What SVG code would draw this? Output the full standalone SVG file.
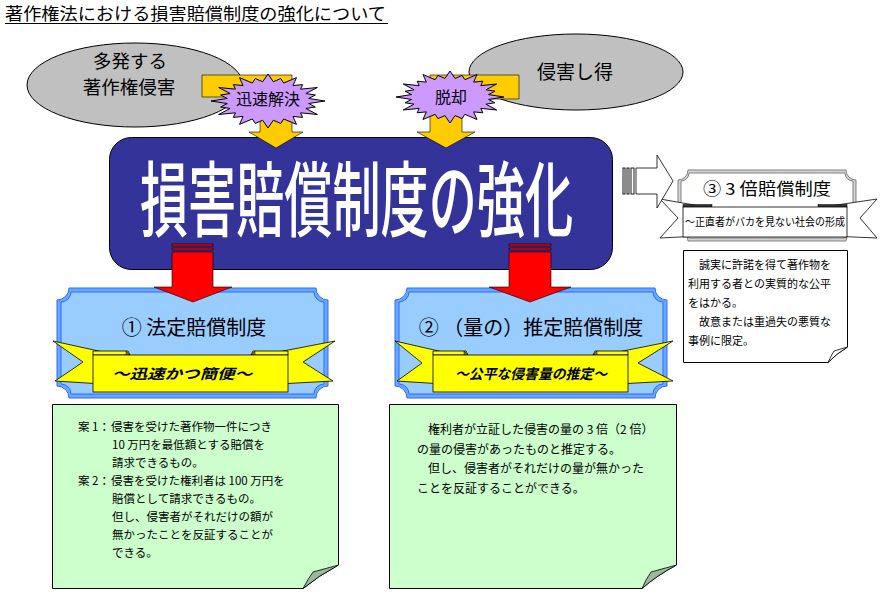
<svg xmlns="http://www.w3.org/2000/svg" xmlns:xlink="http://www.w3.org/1999/xlink" width="880" height="594" viewBox="0 0 880 594">
<style>
text{font-family:"Noto Sans CJK JP","Noto Sans",sans-serif;fill:#000}
.ell{fill:#c0c0c0;stroke:#000;stroke-width:1}
.yel{fill:#ffcc00;stroke:#000;stroke-width:0.6}
.red{fill:#ff0000;stroke:#000;stroke-width:0.6}
.star{fill:#cc99ff;stroke:#000;stroke-width:1}
.pl-out{fill:#66aaff;stroke:#3366ff;stroke-width:1}
.pl-in{fill:#99ccff;stroke:#3366ff;stroke-width:1}
.rib{fill:#ffff00;stroke:#000;stroke-width:0.8}
.ribd{fill:#808000;stroke:#000;stroke-width:0.5}
.note{fill:#ccffcc;stroke:#000;stroke-width:1}
.fold{fill:#99bb99;stroke:#000;stroke-width:0.8}
.nt{font-size:11.5px}
.rt{font-size:14px;font-weight:bold;font-style:italic}
.stripe{fill:#fff;stroke:#000;stroke-width:0.9}
</style>
<defs>
<polygon id="starshape" vector-effect="non-scaling-stroke" points="1,0 0.714,0.094 0.831,0.223 0.665,0.276 0.866,0.5 0.571,0.438 0.608,0.608 0.438,0.571 0.5,0.866 0.276,0.665 0.223,0.831 0.094,0.714 0,1 -0.094,0.714 -0.223,0.831 -0.276,0.665 -0.5,0.866 -0.438,0.571 -0.608,0.608 -0.571,0.438 -0.866,0.5 -0.665,0.276 -0.831,0.223 -0.714,0.094 -1,0 -0.714,-0.094 -0.831,-0.223 -0.665,-0.276 -0.866,-0.5 -0.571,-0.438 -0.608,-0.608 -0.438,-0.571 -0.5,-0.866 -0.276,-0.665 -0.223,-0.831 -0.094,-0.714 0,-1 0.094,-0.714 0.223,-0.831 0.276,-0.665 0.5,-0.866 0.438,-0.571 0.608,-0.608 0.571,-0.438 0.866,-0.5 0.665,-0.276 0.831,-0.223 0.714,-0.094"/>
</defs>
<rect width="880" height="594" fill="#fff"/>

<g id="title">
<text x="5" y="20" font-size="17" textLength="381" lengthAdjust="spacingAndGlyphs">著作権法における損害賠償制度の強化について</text>
<line x1="5" y1="23.5" x2="388" y2="23.5" stroke="#000" stroke-width="1"/>
</g>

<g id="node-many">
<ellipse class="ell" cx="135" cy="85" rx="108" ry="42"/>
<text x="130" y="68" font-size="18.5" text-anchor="middle">多発する</text>
<text x="129" y="94" font-size="18.5" text-anchor="middle">著作権侵害</text>
</g>

<g id="node-can">
<ellipse class="ell" cx="576" cy="72" rx="107" ry="38"/>
<text x="575" y="79" font-size="19" text-anchor="middle">侵害し得</text>
</g>

<g id="node-main">
<rect x="109.5" y="137.5" width="503" height="132" rx="22" ry="22" fill="#333399" stroke="#000" stroke-width="1"/>
<text x="140" y="230" font-size="82" font-weight="500" textLength="433" lengthAdjust="spacingAndGlyphs" style="fill:#fff">損害賠償制度の強化</text>
</g>

<g id="node-statutory">
<path class="pl-out" d="M69,288 H316 A12,12 0 0 0 328,300 V386 A12,12 0 0 0 316,398 H69 A12,12 0 0 0 57,386 V300 A12,12 0 0 0 69,288 Z"/>
<path class="pl-in" d="M71,292 H314 A10,10 0 0 0 324,302 V384 A10,10 0 0 0 314,394 H71 A10,10 0 0 0 61,384 V302 A10,10 0 0 0 71,292 Z"/>
<text x="194" y="335" font-size="20" text-anchor="middle">①  法定賠償制度</text>
<polygon class="rib" points="53,341 103,352 103,384 55,381 83,362"/>
<polygon class="rib" points="335,341 278,352 278,384 333,381 303,362"/>
<path class="rib" d="M93,355 V351 H128 L130,355 Z"/>
<path class="rib" d="M288,355 V351 H253 L251,355 Z"/>
<path class="ribd" d="M126,351 L130,355 L126,355 Z"/>
<path class="ribd" d="M255,351 L251,355 L255,355 Z"/>
<rect class="rib" x="93" y="355" width="195" height="37"/>
<text class="rt" x="182" y="379" text-anchor="middle" textLength="140" lengthAdjust="spacingAndGlyphs">～迅速かつ簡便～</text>
</g>

<g id="node-presumed">
<path class="pl-out" d="M407,288 H655 A12,12 0 0 0 667,300 V386 A12,12 0 0 0 655,398 H407 A12,12 0 0 0 395,386 V300 A12,12 0 0 0 407,288 Z"/>
<path class="pl-in" d="M409,292 H653 A10,10 0 0 0 663,302 V384 A10,10 0 0 0 653,394 H409 A10,10 0 0 0 399,384 V302 A10,10 0 0 0 409,292 Z"/>
<text x="531" y="335" font-size="20" text-anchor="middle">②  （量の）推定賠償制度</text>
<polygon class="rib" points="395,341 443,352 443,384 397,381 422,363"/>
<polygon class="rib" points="673,341 618,352 618,384 673,381 638,363"/>
<path class="rib" d="M433,355 V351 H466 L468,355 Z"/>
<path class="rib" d="M628,355 V351 H595 L593,355 Z"/>
<path class="ribd" d="M464,351 L468,355 L464,355 Z"/>
<path class="ribd" d="M597,351 L593,355 L597,355 Z"/>
<rect class="rib" x="433" y="355" width="195" height="37"/>
<text class="rt" x="531" y="379" text-anchor="middle" textLength="152" lengthAdjust="spacingAndGlyphs">～公平な侵害量の推定～</text>
</g>

<g id="node-triple">
<path d="M688,170 H846 A10,10 0 0 0 856,180 V231 A10,10 0 0 0 846,241 H688 A10,10 0 0 0 678,231 V180 A10,10 0 0 0 688,170 Z" fill="#d4d4d4" stroke="#808080" stroke-width="1"/>
<path d="M689,173 H845 A8,8 0 0 0 853,181 V230 A8,8 0 0 0 845,238 H689 A8,8 0 0 0 681,230 V181 A8,8 0 0 0 689,173 Z" fill="#fff" stroke="#808080" stroke-width="1"/>
<text x="767" y="195" font-size="16.5" text-anchor="middle" textLength="128" lengthAdjust="spacingAndGlyphs">③  3 倍賠償制度</text>
<polygon points="660,199 700,206 700,236 660,238 678,218" fill="#fff" stroke="#000" stroke-width="0.8"/>
<polygon points="877,199 830,206 830,236 877,238 860,218" fill="#fff" stroke="#000" stroke-width="0.8"/>
<rect x="683" y="204.5" width="29" height="3" fill="#333" stroke="#000" stroke-width="0.5"/>
<rect x="818" y="204.5" width="29" height="3" fill="#333" stroke="#000" stroke-width="0.5"/>
<rect x="683" y="207" width="164" height="30" fill="#fff" stroke="#000" stroke-width="0.8"/>
<text x="685" y="226" font-size="11" textLength="160" lengthAdjust="spacingAndGlyphs">～正直者がバカを見ない社会の形成</text>
</g>

<g id="note-triple">
<path d="M683.5,250.5 H847.5 V347 Q836,354 828,362.5 H683.5 Z" fill="#fff" stroke="#000" stroke-width="1"/>
<path d="M828,362.5 Q831,356 834,351 L847.5,347 Q836,354 828,362.5 Z" fill="#fff" stroke="#000" stroke-width="0.8"/>
<text style="font-size:11px">
<tspan x="699" y="269">誠実に許諾を得て著作物を</tspan>
<tspan x="688" y="288">利用する者との実質的な公平</tspan>
<tspan x="688" y="307">をはかる。</tspan>
<tspan x="699" y="326">故意または重過失の悪質な</tspan>
<tspan x="688" y="345">事例に限定。</tspan>
</text>
</g>

<g id="note-statutory">
<path class="note" d="M52.5,404.5 H338.5 V565 Q318,576 303,588.5 H52.5 Z"/>
<path class="fold" d="M303,588.5 Q308,579 313,572 L338.5,565 Q318,576 303,588.5 Z"/>
<text class="nt">
<tspan x="78" y="431">案 1：</tspan><tspan x="111" y="431">侵害を受けた著作物一件につき</tspan>
<tspan x="112" y="449">10 万円を最低額とする賠償を</tspan>
<tspan x="112" y="467">請求できるもの。</tspan>
<tspan x="78" y="485">案 2：</tspan><tspan x="111" y="485">侵害を受けた権利者は 100 万円を</tspan>
<tspan x="112" y="503">賠償として請求できるもの。</tspan>
<tspan x="112" y="521">但し、侵害者がそれだけの額が</tspan>
<tspan x="112" y="539">無かったことを反証することが</tspan>
<tspan x="112" y="557">できる。</tspan>
</text>
</g>

<g id="note-presumed">
<path class="note" d="M389.5,404.5 H676.5 V565 Q656,576 642,588.5 H389.5 Z"/>
<path class="fold" d="M642,588.5 Q646,579 651,572 L676.5,565 Q656,576 642,588.5 Z"/>
<text style="font-size:12px">
<tspan x="428" y="434">権利者が立証した侵害の量の 3 倍（2 倍）</tspan>
<tspan x="417" y="454">の量の侵害があったものと推定する。</tspan>
<tspan x="428" y="473">但し、侵害者がそれだけの量が無かった</tspan>
<tspan x="417" y="493">ことを反証することができる。</tspan>
</text>
</g>

<g id="connectors">
<polygon class="yel" points="202,75 292,75 292,132 303,132 276,148 249,132 260,132 260,97 202,97"/>
<polygon class="yel" points="519,75 430,75 430,132 417,132 446,148 475,132 462,132 462,99 519,99"/>
<rect class="red" x="172" y="244" width="41" height="2"/>
<rect class="red" x="172" y="248" width="41" height="2"/>
<polygon class="red" points="172,252 213,252 213,287 232,287 193,302 154,287 172,287"/>
<rect class="red" x="509" y="244" width="42" height="2"/>
<rect class="red" x="509" y="248" width="42" height="2"/>
<polygon class="red" points="509,252 551,252 551,287 571,287 530,302 489,287 509,287"/>
<rect class="stripe" x="623" y="168" width="2" height="26"/>
<rect class="stripe" x="627" y="168" width="2" height="26"/>
<rect class="stripe" x="631" y="168" width="3" height="26"/>
<polygon points="636,168 657,168 657,155 673,181 657,208 657,194 636,194" fill="#fff" stroke="#000" stroke-width="0.8"/>
</g>

<g id="label-quick">
<use xlink:href="#starshape" class="star" transform="translate(268,101) scale(57,27)"/>
<text x="268" y="105" font-size="16" text-anchor="middle">迅速解決</text>
</g>
<g id="label-escape">
<use xlink:href="#starshape" class="star" transform="translate(450,97) scale(54,26)"/>
<text x="451" y="103" font-size="16" text-anchor="middle">脱却</text>
</g>
</svg>
